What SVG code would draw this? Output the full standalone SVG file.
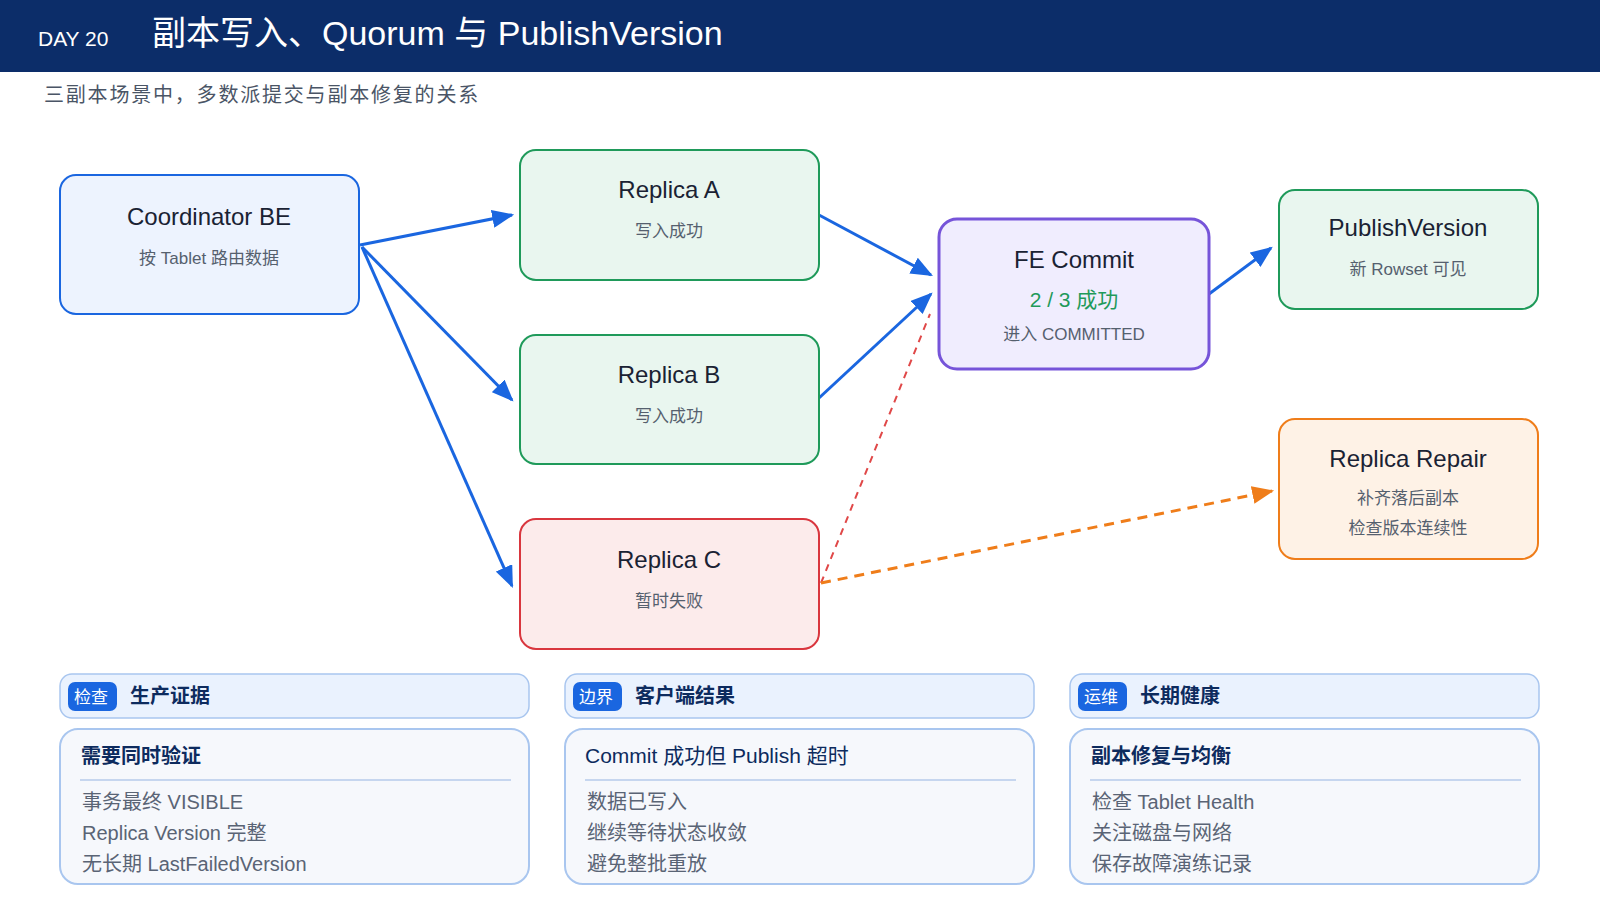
<svg xmlns="http://www.w3.org/2000/svg" width="1600" height="900" viewBox="0 0 1600 900">
<style>
text{font-family:"Liberation Sans","Noto Sans CJK SC",sans-serif}
.t{font-size:24px;fill:#1a2233;text-anchor:middle}
.s{font-size:17px;fill:#55606e;text-anchor:middle}
.ph{font-size:20px;fill:#0d2b5e;font-weight:bold}
.bd{font-size:17px;fill:#fff}
.ct{font-size:20px;fill:#0d2b5e;font-weight:bold}
.li{font-size:20px;fill:#5a6475}
.hb{fill:#eaf2fe;stroke:#a9c6ef;stroke-width:1.5}
.cb{fill:#f6f8fc;stroke:#a9c6ef;stroke-width:2}
.ar{stroke:#1a66e0;stroke-width:3;fill:none;marker-end:url(#ab)}
</style>
<defs>
<marker id="ab" viewBox="0 0 10 10" refX="9" refY="5" markerWidth="22" markerHeight="18" markerUnits="userSpaceOnUse" orient="auto" preserveAspectRatio="none"><path d="M0,0L10,5L0,10z" fill="#1a66e0"/></marker>
<marker id="ao" viewBox="0 0 10 10" refX="9" refY="5" markerWidth="22" markerHeight="18" markerUnits="userSpaceOnUse" orient="auto" preserveAspectRatio="none"><path d="M0,0L10,5L0,10z" fill="#ef7d1a"/></marker>
</defs>
<rect width="1600" height="900" fill="#fff"/>
<rect width="1600" height="72" fill="#0c2d69"/>
<text x="38" y="46" font-size="21" fill="#fff">DAY 20</text>
<text x="152" y="45" font-size="34" fill="#fff">副本写入、Quorum 与 PublishVersion</text>
<text x="44" y="102" font-size="20" fill="#4a5566" letter-spacing="1.8">三副本场景中，多数派提交与副本修复的关系</text>
<g id="connectors">
<line class="ar" x1="360" y1="245" x2="512" y2="215"/>
<line class="ar" x1="362" y1="247" x2="512" y2="400"/>
<line class="ar" x1="362" y1="247" x2="512" y2="586"/>
<line class="ar" x1="819" y1="215" x2="931" y2="275"/>
<line class="ar" x1="819" y1="398" x2="931" y2="294"/>
<line x1="821" y1="583" x2="930" y2="314" stroke="#e04848" stroke-width="2" stroke-dasharray="7 6"/>
<line class="ar" x1="1209" y1="294" x2="1271" y2="248"/>
<line x1="821" y1="583" x2="1272" y2="491" stroke="#ef7d1a" stroke-width="3" stroke-dasharray="10 7" marker-end="url(#ao)"/>
</g>
<g id="coordinator"><rect x="60" y="175" width="299" height="139" rx="16" fill="#edf3fe" stroke="#1a66e0" stroke-width="2"/><text class="t" x="209" y="225">Coordinator BE</text><text class="s" x="209" y="264">按 Tablet 路由数据</text></g>
<g id="replicaA"><rect x="520" y="150" width="299" height="130" rx="16" fill="#e9f6ef" stroke="#1f9a5a" stroke-width="2"/><text class="t" x="669" y="198">Replica A</text><text class="s" x="669" y="237">写入成功</text></g>
<g id="replicaB"><rect x="520" y="335" width="299" height="129" rx="16" fill="#e9f6ef" stroke="#1f9a5a" stroke-width="2"/><text class="t" x="669" y="383">Replica B</text><text class="s" x="669" y="422">写入成功</text></g>
<g id="replicaC"><rect x="520" y="519" width="299" height="130" rx="16" fill="#fcebeb" stroke="#d9363e" stroke-width="2"/><text class="t" x="669" y="568">Replica C</text><text class="s" x="669" y="607">暂时失败</text></g>
<g id="fe"><rect x="939" y="219" width="270" height="150" rx="18" fill="#f0edfe" stroke="#7654d9" stroke-width="3"/><text class="t" x="1074" y="268" font-size="26">FE Commit</text><text x="1074" y="307" font-size="21" fill="#1f9a5a" text-anchor="middle">2 / 3 成功</text><text class="s" x="1074" y="340">进入 COMMITTED</text></g>
<g id="publish"><rect x="1279" y="190" width="259" height="119" rx="16" fill="#e9f6ef" stroke="#1f9a5a" stroke-width="2"/><text class="t" x="1408" y="236">PublishVersion</text><text class="s" x="1408" y="275">新 Rowset 可见</text></g>
<g id="repair"><rect x="1279" y="419" width="259" height="140" rx="16" fill="#fef2e6" stroke="#ef7d1a" stroke-width="2"/><text class="t" x="1408" y="467">Replica Repair</text><text class="s" x="1408" y="504">补齐落后副本</text><text class="s" x="1408" y="534">检查版本连续性</text></g>
<g id="panel1"><rect class="hb" x="60" y="674" width="469" height="44" rx="12"/><rect x="68" y="682" width="49" height="29" rx="7" fill="#1a66e0"/><text class="bd" x="74" y="703">检查</text><text class="ph" x="130" y="703">生产证据</text>
<rect class="cb" x="60" y="729" width="469" height="155" rx="18"/><text class="ct" x="81" y="763">需要同时验证</text><line x1="80" y1="780" x2="511" y2="780" stroke="#c6d6ef" stroke-width="2"/><text class="li" x="82" y="809">事务最终 VISIBLE</text><text class="li" x="82" y="840">Replica Version 完整</text><text class="li" x="82" y="871">无长期 LastFailedVersion</text></g>
<g id="panel2"><rect class="hb" x="565" y="674" width="469" height="44" rx="12"/><rect x="573" y="682" width="49" height="29" rx="7" fill="#1a66e0"/><text class="bd" x="579" y="703">边界</text><text class="ph" x="635" y="703">客户端结果</text>
<rect class="cb" x="565" y="729" width="469" height="155" rx="18"/><text x="585" y="763" font-size="21" fill="#0d2b5e">Commit 成功但 Publish 超时</text><line x1="585" y1="780" x2="1016" y2="780" stroke="#c6d6ef" stroke-width="2"/><text class="li" x="587" y="809">数据已写入</text><text class="li" x="587" y="840">继续等待状态收敛</text><text class="li" x="587" y="871">避免整批重放</text></g>
<g id="panel3"><rect class="hb" x="1070" y="674" width="469" height="44" rx="12"/><rect x="1078" y="682" width="49" height="29" rx="7" fill="#1a66e0"/><text class="bd" x="1084" y="703">运维</text><text class="ph" x="1140" y="703">长期健康</text>
<rect class="cb" x="1070" y="729" width="469" height="155" rx="18"/><text class="ct" x="1091" y="763">副本修复与均衡</text><line x1="1090" y1="780" x2="1521" y2="780" stroke="#c6d6ef" stroke-width="2"/><text class="li" x="1092" y="809">检查 Tablet Health</text><text class="li" x="1092" y="840">关注磁盘与网络</text><text class="li" x="1092" y="871">保存故障演练记录</text></g>
</svg>
